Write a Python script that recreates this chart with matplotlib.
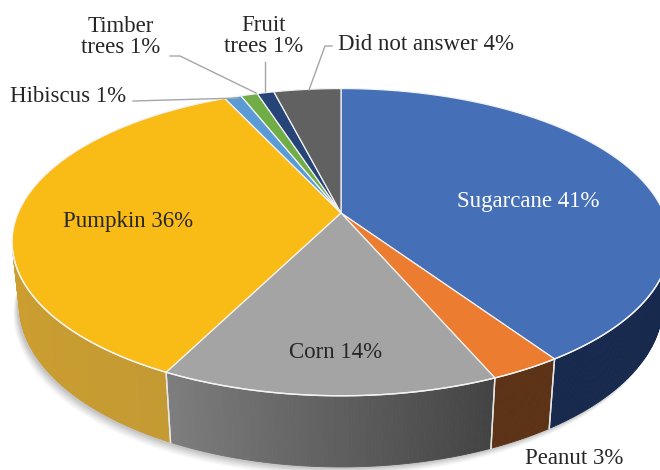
import numpy as np
import matplotlib
matplotlib.use("Agg")
import matplotlib.pyplot as plt
from matplotlib.patches import Polygon
from matplotlib.colors import to_rgb

# ---------------- data ----------------
categories = ["Sugarcane", "Peanut", "Corn", "Pumpkin", "Hibiscus",
              "Timber trees", "Fruit trees", "Did not answer"]
values = [41, 3, 14, 36, 1, 1, 1, 4]
label_texts = ["Sugarcane 41%", "Peanut 3%", "Corn 14%", "Pumpkin 36%",
               "Hibiscus 1%", "Timber\ntrees 1%", "Fruit\ntrees 1%",
               "Did not answer 4%"]

top_colors = ["#4570B8", "#EB7C30", "#A4A4A4", "#F9BC17",
              "#5B9BD5", "#70AD47", "#264478", "#616161"]
# wall colour at (left end, right end) on screen
wall_colors = [("#172A4E", "#172A4E"), ("#5C3317", "#5C3317"),
               ("#7E7E7E", "#434343"), ("#DCA62A", "#C49A32"),
               ("#3F6E9A", "#3F6E9A"), ("#4E7A32", "#4E7A32"),
               ("#1A3055", "#1A3055"), ("#444444", "#444444")]

# ---------------- projection ----------------
phi = np.radians(27.3)
c, s = np.cos(phi), np.sin(phi)
d = 4.68
F = 1511.0
h = 0.22
cx, cy = 341.0, 213.0


def proj(theta_deg, z=0.0, r=1.0):
    th = np.radians(np.asarray(theta_deg, dtype=float))
    X = r * np.sin(th)
    Y = r * np.cos(th)
    zc = d + c * Y - s * z
    yc = s * Y + c * z
    return cx + F * X / zc, cy - F * yc / zc


fig = plt.figure(figsize=(6.6, 4.7), dpi=100)
ax = fig.add_axes([0, 0, 1, 1])
ax.set_xlim(0, 660)
ax.set_ylim(470, 0)
ax.axis("off")

total = float(sum(values))
bounds = np.concatenate([[0], np.cumsum(values) / total * 360.0])

# soft shadow under the pie
th = np.linspace(0, 360, 400)
bx, by = proj(th, -h)
for k, a in zip(range(6), [0.05, 0.05, 0.04, 0.04, 0.03, 0.03]):
    ax.add_patch(Polygon(np.column_stack([bx - 2 - k * 0.8, by + 2 + k * 1.3]),
                         closed=True, facecolor="#000000", alpha=a,
                         edgecolor="none", zorder=0.5))

# visible range of the outer wall
lim = np.degrees(np.arccos(-1.0 / (d * c)))
vis0, vis1 = lim, 360.0 - lim

# ---------------- walls ----------------
for i, (a0, a1) in enumerate(zip(bounds[:-1], bounds[1:])):
    w0, w1 = max(a0, vis0), min(a1, vis1)
    if w1 <= w0:
        continue
    cl, cr = np.array(to_rgb(wall_colors[i][0])), np.array(to_rgb(wall_colors[i][1]))
    n = max(2, int((w1 - w0) * 2))
    ths = np.linspace(w0, w1, n + 1)
    for j in range(n):
        t0, t1 = ths[j], ths[j + 1]
        f = ((t0 + t1) / 2 - a0) / (a1 - a0)
        col = cr * (1 - f) + cl * f
        tx0, ty0 = proj([t0, t1], 0.0)
        bx0, by0 = proj([t1, t0], -h)
        poly = np.column_stack([np.concatenate([tx0, bx0]),
                                np.concatenate([ty0, by0])])
        ax.add_patch(Polygon(poly, closed=True, facecolor=col, edgecolor=col,
                             lw=0.6, zorder=1))
    for t in (a0, a1):
        if vis0 < t < vis1:
            xt, yt = proj(t, 0.0)
            xb, yb = proj(t, -h)
            ax.plot([xt, xb], [yt, yb], color="#E6E6E6", lw=1.0, zorder=2)

# ---------------- top faces ----------------
for i, (a0, a1) in enumerate(zip(bounds[:-1], bounds[1:])):
    ths = np.linspace(a0, a1, max(3, int((a1 - a0) * 2)))
    ex, ey = proj(ths, 0.0)
    poly = np.column_stack([np.concatenate([[cx], ex]),
                            np.concatenate([[cy], ey])])
    ax.add_patch(Polygon(poly, closed=True, facecolor=top_colors[i],
                         edgecolor="#F2F2F2", lw=0.9, zorder=3))

# highlight along the front rim
ths = np.linspace(vis0, vis1, 300)
rx, ry = proj(ths, 0.0)
ax.plot(rx, ry, color="#F4F4F4", lw=1.0, zorder=4)

# ---------------- labels ----------------
font = dict(family=["Liberation Serif", "DejaVu Serif"], fontsize=16.5)
txt_col = "#262626"
ax.text(528, 201, label_texts[0], color="white", ha="center", va="center", **font, zorder=6)
ax.text(574, 458, label_texts[1], color=txt_col, ha="center", va="center", **font, zorder=6)
ax.text(336, 352, label_texts[2], color=txt_col, ha="center", va="center", **font, zorder=6)
ax.text(128, 222, label_texts[3], color=txt_col, ha="center", va="center", **font, zorder=6)
ax.text(68, 97, label_texts[4], color=txt_col, ha="center", va="center", **font, zorder=6)
ax.text(121, 37, label_texts[5], color=txt_col, ha="center", va="center",
        linespacing=0.95, **font, zorder=6)
ax.text(264, 36, label_texts[6], color=txt_col, ha="center", va="center",
        linespacing=0.95, **font, zorder=6)
ax.text(338, 45, label_texts[7], color=txt_col, ha="left", va="center", **font, zorder=6)

# leader lines
lc = "#A6A6A6"
for lx, ly in [([133, 238], [101, 98]),
               ([170, 180, 256], [56, 56, 93]),
               ([265, 265], [62, 91]),
               ([332, 325, 309], [46, 46, 90])]:
    ax.plot(lx, ly, color=lc, lw=1.0, zorder=5)

fig.savefig("out.png", dpi=100, facecolor="white")
